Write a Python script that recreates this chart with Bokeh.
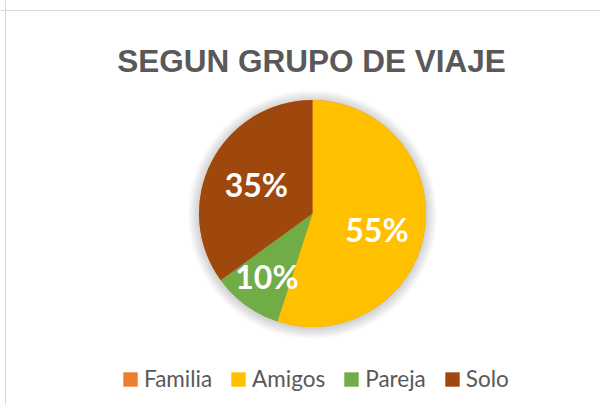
import math
from bokeh.plotting import figure
from bokeh.models import ColumnDataSource, Range1d, Legend, LegendItem, Span
from bokeh.core.properties import value
from bokeh.embed import file_html
from bokeh.resources import INLINE

# ---- data ----
categories = ["Familia", "Amigos", "Pareja", "Solo"]
shares = [0, 55, 10, 35]
colors = ["#ED7D31", "#FFC000", "#70AD47", "#9E480E"]
title_text = "SEGUN GRUPO DE VIAJE"

# ---- layout constants (pixels, y measured from the bottom) ----
W, H = 600, 405
CX, CY = 312, 405 - 213
R = 113.5
label_dist = [0.0, 0.575, 0.683, 0.555]
label_nudge = [(0, 0), (0, -6), (0, 0), (0, 0)]

total = float(sum(shares))
starts, ends, mids = [], [], []
cum = 0.0
for s in shares:
    a0 = math.pi / 2 - 2 * math.pi * (cum + s) / total
    a1 = math.pi / 2 - 2 * math.pi * cum / total
    starts.append(a0)
    ends.append(a1)
    mids.append((a0 + a1) / 2)
    cum += s

src = ColumnDataSource(dict(cat=categories, share=shares, color=colors,
                            start=starts, end=ends))

p = figure(width=W, height=H, x_range=Range1d(0, W), y_range=Range1d(0, H),
           x_axis_type=None, y_axis_type=None, min_border=0,
           toolbar_location=None, output_backend="svg")
p.grid.visible = False
p.outline_line_color = None
p.background_fill_color = "white"

# chart area border
p.add_layout(Span(location=H - 10, dimension="width", line_color="#d9d9d9", line_width=1))
p.add_layout(Span(location=5, dimension="height", line_color="#d9d9d9", line_width=1))

# soft shadow around the pie
for k in range(1, 12):
    p.circle(x=[CX], y=[CY - 1], radius=R + k, fill_color="black",
             fill_alpha=0.015, line_color=None)

wr = p.wedge(x=CX, y=CY, radius=R, start_angle="start", end_angle="end",
             fill_color="color", line_color=None, source=src)

# data labels
lx, ly, lt = [], [], []
for i, s in enumerate(shares):
    if s <= 0:
        continue
    d = label_dist[i] * R
    lx.append(CX + d * math.cos(mids[i]) + label_nudge[i][0])
    ly.append(CY + d * math.sin(mids[i]) + label_nudge[i][1])
    lt.append(f"{s}%")
p.text(x=lx, y=ly, text=lt, text_color="white", text_font=value("Lato"),
       text_font_style="bold", text_font_size="32px",
       text_align="center", text_baseline="middle")

# title
p.text(x=[311], y=[H - 60], text=[title_text], text_color="#595959",
       text_font=value("Liberation Sans"), text_font_style="bold",
       text_font_size="31.5px", text_align="center", text_baseline="alphabetic")

items = [LegendItem(label=c, renderers=[wr], index=i) for i, c in enumerate(categories)]
legend = Legend(items=items, orientation="horizontal", location=(121, 13),
                glyph_width=18, glyph_height=18, label_standoff=5, spacing=17,
                padding=0, margin=0, border_line_color=None,
                background_fill_alpha=0, label_text_font="Lato",
                label_text_font_size="22.5px", label_text_color="#595959")
p.add_layout(legend)

open("out.html", "w").write(file_html(p, INLINE))
